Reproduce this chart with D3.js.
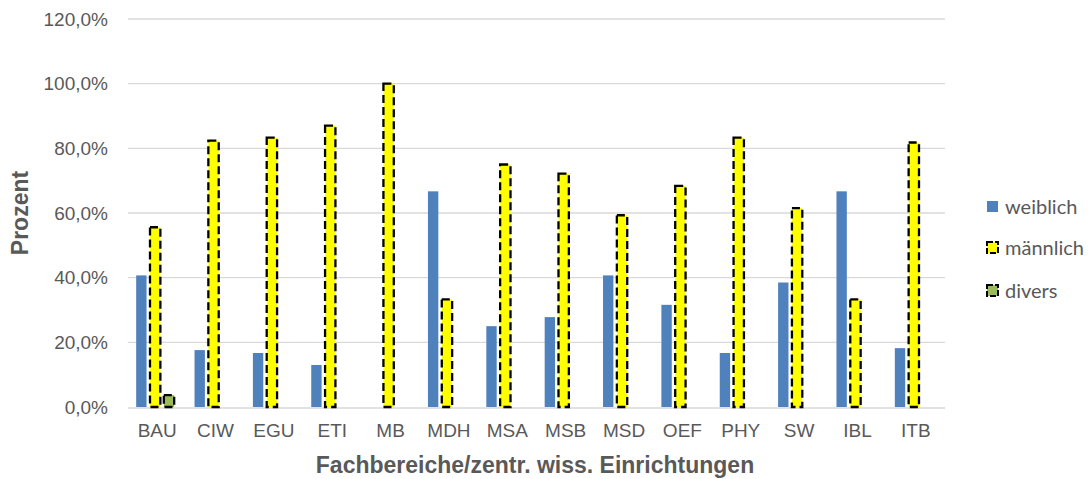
<html>
  <head>
    <script src="https://cdn.jsdelivr.net/npm/d3@7"></script>
    <style>
      body { margin: 0; background: #fff; }
    </style>
  </head>
  <body>
    <div id="container"></div>
    <script>
      const categories = ["BAU", "CIW", "EGU", "ETI", "MB", "MDH", "MSA", "MSB", "MSD", "OEF", "PHY", "SW", "IBL", "ITB"];
      const weiblich = [40.7, 17.6, 16.7, 13.0, 0, 66.7, 25.0, 27.8, 40.7, 31.6, 16.7, 38.5, 66.7, 18.2];
      const maennlich = [55.6, 82.4, 83.3, 87.0, 100, 33.3, 75.0, 72.2, 59.3, 68.4, 83.3, 61.5, 33.3, 81.8];
      const divers = [3.7, 0, 0, 0, 0, 0, 0, 0, 0, 0, 0, 0, 0, 0];
      const seriesNames = ["weiblich", "männlich", "divers"];
      const yTicks = [0, 20, 40, 60, 80, 100, 120];

      function drawSVG() {
        d3.select("#container #svg1").remove();
        const svgW = 1090, svgH = 479;
        const left = 128, right = 945, top = 19, bottom = 407;

        const svg = d3.create("svg")
          .attr("id", "svg1")
          .attr("width", svgW)
          .attr("height", svgH)
          .style("font-family", "'Liberation Sans', Arial, sans-serif");

        const xScale = d3.scaleBand().domain(categories).range([left, right]);
        const sub = d3.scaleBand().domain(seriesNames).range([-19, 19]).paddingInner(0.25);
        const yScale = d3.scaleLinear().domain([0, 120]).range([bottom, top]);

        // gridlines
        svg.append("g")
          .selectAll("line")
          .data(yTicks.slice(1))
          .join("line")
          .attr("x1", left).attr("x2", right)
          .attr("y1", d => yScale(d)).attr("y2", d => yScale(d))
          .attr("stroke", "#d9d9d9").attr("stroke-width", 1.3);

        // x axis line (below bars)
        svg.append("line")
          .attr("x1", left).attr("x2", right)
          .attr("y1", bottom + 1).attr("y2", bottom + 1)
          .attr("stroke", "#d9d9d9").attr("stroke-width", 1.5);

        // y axis labels
        const yAxis = d3.axisLeft(yScale)
          .tickValues(yTicks)
          .tickSize(0)
          .tickPadding(20)
          .tickFormat(d => d.toFixed(1).replace(".", ",") + "%");
        svg.append("g")
          .attr("transform", `translate(${left},0)`)
          .call(yAxis)
          .call(g => g.select(".domain").remove())
          .selectAll("text")
          .attr("font-size", 19)
          .attr("fill", "#595959")
          .attr("font-family", "'Liberation Sans', Arial, sans-serif");

        // bars
        const data = categories.map((c, i) => ({ c, vals: [weiblich[i], maennlich[i], divers[i]] }));
        const colors = ["#4f81bd", "#ffff00", "#9bbb59"];
        const groups = svg.append("g").selectAll("g")
          .data(data)
          .join("g")
          .attr("transform", d => `translate(${xScale(d.c) + xScale.bandwidth() / 2 - 2},0)`);

        groups.selectAll("rect")
          .data(d => d.vals.map((v, k) => ({ v, k })).filter(e => e.v > 0))
          .join("rect")
          .attr("x", e => sub(seriesNames[e.k]))
          .attr("width", sub.bandwidth())
          .attr("y", e => yScale(e.v))
          .attr("height", e => bottom - yScale(e.v))
          .attr("fill", e => colors[e.k])
          .attr("stroke", e => e.k === 0 ? "none" : "#000")
          .attr("stroke-width", 2.3)
          .attr("stroke-dasharray", e => e.k === 0 ? null : "8,4");

        const xAxis = d3.axisBottom(xScale).tickSize(0).tickPadding(17);
        svg.append("g")
          .attr("transform", `translate(0,${bottom})`)
          .call(xAxis)
          .call(g => g.select(".domain").remove())
          .selectAll("text")
          .attr("font-size", 19)
          .attr("fill", "#595959")
          .attr("font-family", "'Liberation Sans', Arial, sans-serif");

        // axis titles
        svg.append("text")
          .attr("x", 535).attr("y", 473)
          .attr("text-anchor", "middle")
          .attr("font-size", 23).attr("font-weight", "bold")
          .attr("fill", "#595959")
          .text("Fachbereiche/zentr. wiss. Einrichtungen");

        svg.append("text")
          .attr("transform", "translate(28,213) rotate(-90)")
          .attr("text-anchor", "middle")
          .attr("font-size", 23).attr("font-weight", "bold")
          .attr("fill", "#595959")
          .text("Prozent");

        // legend
        const legend = svg.append("g").attr("transform", "translate(987,0)");
        const legY = [207, 248, 291];
        seriesNames.forEach((name, k) => {
          legend.append("rect")
            .attr("x", 0).attr("y", legY[k] - 6)
            .attr("width", 11).attr("height", 11)
            .attr("fill", colors[k])
            .attr("stroke", k === 0 ? "none" : "#000")
            .attr("stroke-width", 2)
            .attr("stroke-dasharray", k === 0 ? null : "6,2");
          legend.append("text")
            .attr("x", 18).attr("y", legY[k])
            .attr("dy", "0.35em")
            .attr("font-size", 20)
            .attr("fill", "#595959")
            .attr("font-family", "Lato, 'Open Sans', sans-serif")
            .text(name);
        });

        container.append(svg.node());
      }
      drawSVG();
    </script>
  </body>
</html>
